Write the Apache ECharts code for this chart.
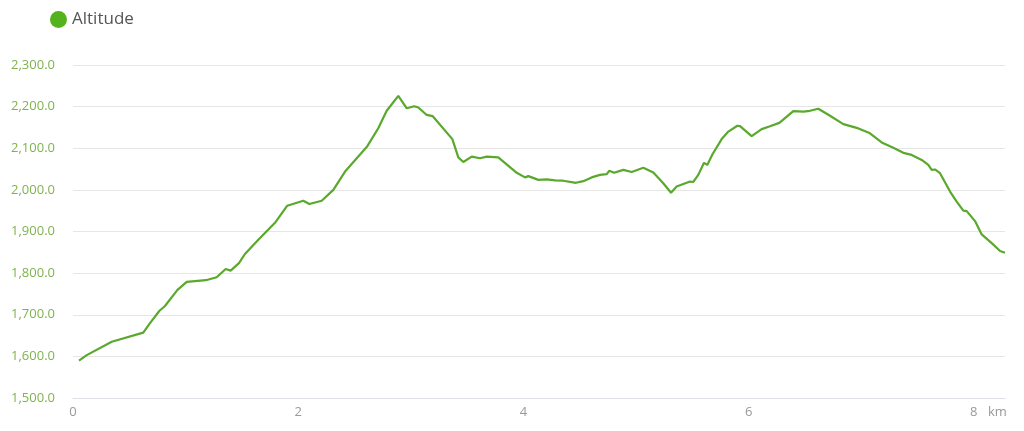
<!DOCTYPE html>
<html>
<head>
<meta charset="utf-8">
<script src="https://cdn.jsdelivr.net/npm/echarts@6/dist/echarts.min.js"></script>
<style>
html,body{margin:0;padding:0;background:#fff;}
#chart{width:1024px;height:431px;}
</style>
</head>
<body>
<div id="chart"></div>
<script>
const distanceKm = [0.053,0.122,0.344,0.624,0.684,0.766,0.817,0.926,1.01,1.18,1.276,1.356,1.40,1.474,1.527,1.646,1.80,1.903,2.045,2.099,2.209,2.312,2.416,2.614,2.711,2.786,2.889,2.964,3.031,3.067,3.141,3.195,3.369,3.422,3.466,3.541,3.615,3.674,3.777,3.941,4.014,4.044,4.133,4.207,4.281,4.354,4.467,4.532,4.606,4.680,4.740,4.763,4.805,4.887,4.962,5.065,5.154,5.242,5.311,5.361,5.480,5.509,5.553,5.604,5.633,5.678,5.761,5.820,5.900,5.924,6.027,6.116,6.190,6.273,6.397,6.486,6.545,6.619,6.723,6.841,6.960,7.078,7.182,7.285,7.374,7.448,7.537,7.596,7.626,7.655,7.700,7.789,7.848,7.907,7.937,8.011,8.070,8.159,8.233,8.277];
const altitudeM = [1590,1603,1635,1657,1680,1709,1721,1759,1779,1783,1790,1810,1806,1824,1846,1880,1923,1962,1974,1966,1974,2000,2044,2105,2148,2190,2226,2196,2201,2198,2180,2177,2122,2078,2067,2080,2076,2080,2078,2041,2030,2033,2024,2025,2023,2022,2017,2021,2030,2036,2038,2046,2041,2048,2043,2053,2042,2016,1993,2008,2020,2019,2036,2065,2060,2085,2122,2140,2154,2153,2129,2146,2153,2161,2189,2188,2190,2195,2178,2158,2149,2136,2114,2101,2089,2084,2072,2060,2048,2049,2040,1996,1972,1950,1949,1925,1893,1872,1853,1849];
const seriesName = 'Altitude';
const xUnit = 'km';

const chart = echarts.init(document.getElementById('chart'));
chart.setOption({
  animation: false,
  textStyle: { fontFamily: 'Open Sans' },
  legend: {
    left: 50, top: 11, padding: 0,
    icon: 'circle', itemWidth: 17, itemHeight: 17, itemGap: 6,
    textStyle: { fontSize: 17, color: '#555', fontFamily: 'Open Sans' },
    data: [seriesName]
  },
  grid: { left: 73, right: 19, top: 65, bottom: 33 },
  xAxis: {
    type: 'value', min: 0, max: 8.277, interval: 2,
    name: xUnit, nameLocation: 'end', nameGap: -17,
    nameTextStyle: { color: '#999', fontSize: 13, verticalAlign: 'top', padding: [8,0,0,0] },
    axisLine: { show: true, lineStyle: { color: '#dde0e8' } },
    axisTick: { show: false },
    splitLine: { show: false },
    axisLabel: { color: '#999', fontSize: 13, margin: 8,
      formatter: v => (v % 2 === 0 && v <= 8) ? String(v) : '' }
  },
  yAxis: {
    type: 'value', min: 1500, max: 2300, interval: 100,
    axisLine: { show: false }, axisTick: { show: false },
    splitLine: { lineStyle: { color: '#e6e6e6' } },
    axisLabel: { color: '#7fb24e', fontSize: 13, margin: 18,
      formatter: v => v.toLocaleString('en-US', { minimumFractionDigits: 1, maximumFractionDigits: 1 }) }
  },
  series: [{
    name: seriesName, type: 'line', showSymbol: false, symbol: 'none',
    color: '#55b21f',
    lineStyle: { color: '#5aa82c', width: 2.2 },
    data: distanceKm.map((d, i) => [d, altitudeM[i]])
  }]
});
</script>
</body>
</html>
